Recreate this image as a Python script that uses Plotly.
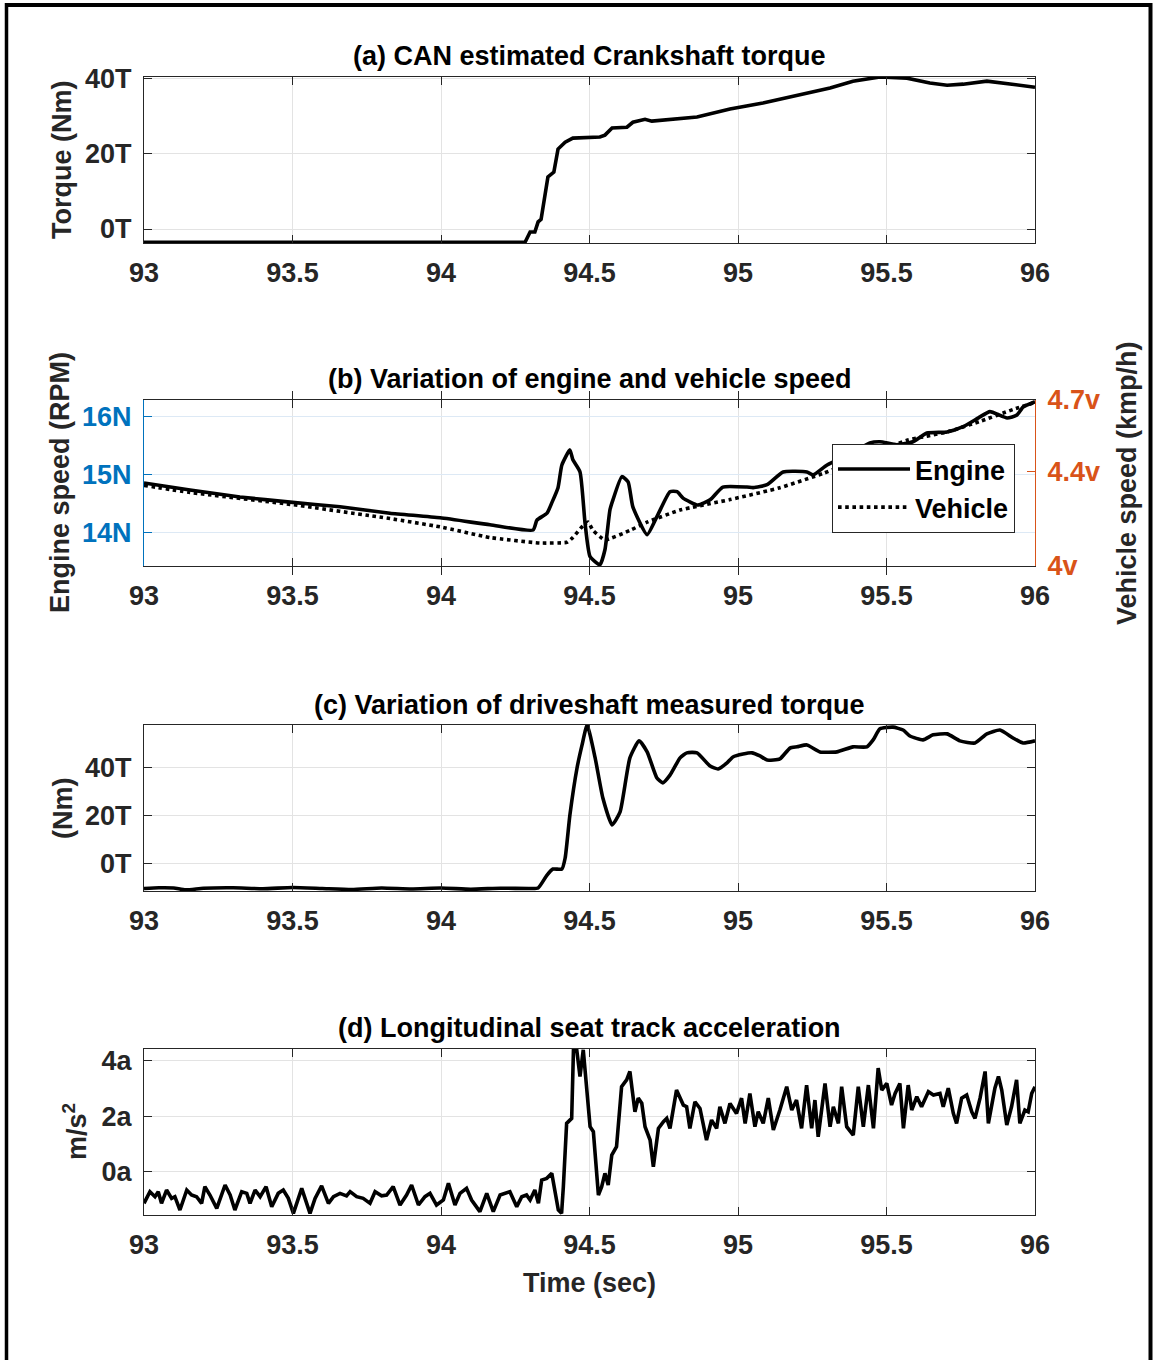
import plotly.graph_objects as go

W, H = 1154, 1360

# ---------------- data ----------------
xtick_vals = [93, 93.5, 94, 94.5, 95, 95.5, 96]
xtick_text = ["93", "93.5", "94", "94.5", "95", "95.5", "96"]

# (a) CAN estimated crankshaft torque
t_crank = [93.0, 94.283, 94.300, 94.316, 94.327, 94.337, 94.360, 94.380, 94.394, 94.418,
           94.444, 94.502, 94.535, 94.552, 94.576, 94.626, 94.646, 94.687, 94.710, 94.862,
           94.973, 95.084, 95.199, 95.310, 95.387, 95.478, 95.569, 95.646, 95.704, 95.758,
           95.838, 95.892, 95.926, 96.0]
crank = [-3.5, -3.5, -0.8, -0.8, 1.9, 2.6, 13.8, 15.1, 21.2, 23.0,
         24.1, 24.4, 24.4, 24.9, 26.8, 27.0, 28.3, 29.1, 28.6, 29.7,
         31.8, 33.4, 35.5, 37.4, 39.2, 40.3, 40.0, 38.7, 38.1, 38.4,
         39.2, 38.7, 38.4, 37.6]
crank_tick_vals = [0, 20, 40]
crank_tick_text = ["0T", "20T", "40T"]

# (b) engine speed (left axis) and vehicle speed (right axis)
t_eng = [93.0, 93.155, 93.323, 93.492, 93.660, 93.828, 93.997, 94.165, 94.310, 94.323,
         94.357, 94.374, 94.394, 94.407, 94.434, 94.444, 94.468, 94.485, 94.502, 94.535,
         94.552, 94.569, 94.579, 94.609, 94.630, 94.646, 94.694, 94.727, 94.771, 94.795,
         94.815, 94.865, 94.906, 94.949, 95.030, 95.051, 95.098, 95.152, 95.232, 95.253,
         95.300, 95.377, 95.444, 95.478, 95.535, 95.589, 95.636, 95.704, 95.758, 95.815,
         95.848, 95.906, 95.939, 95.960, 96.000]
engine = [14.86, 14.74, 14.62, 14.53, 14.45, 14.34, 14.26, 14.14, 14.05, 14.22,
          14.34, 14.53, 14.78, 15.17, 15.43, 15.26, 15.05, 14.17, 13.59, 13.45,
          13.71, 14.40, 14.57, 14.97, 14.88, 14.45, 13.97, 14.28, 14.71, 14.71,
          14.60, 14.48, 14.57, 14.79, 14.79, 14.78, 14.83, 15.05, 15.05, 15.00,
          15.17, 15.36, 15.55, 15.57, 15.52, 15.57, 15.72, 15.74, 15.83, 16.00,
          16.09, 15.98, 16.03, 16.17, 16.26]
t_veh = [93.0, 93.155, 93.492, 93.828, 93.997, 94.165, 94.333, 94.424, 94.444, 94.478,
         94.495, 94.512, 94.552, 94.636, 94.694, 94.805, 94.973, 95.141, 95.286, 95.444,
         95.569, 95.704, 95.815, 95.926, 96.0]
vehicle = [4.34, 4.31, 4.26, 4.20, 4.165, 4.12, 4.097, 4.10, 4.12, 4.17,
           4.185, 4.15, 4.11, 4.15, 4.185, 4.236, 4.28, 4.33, 4.39, 4.47,
           4.53, 4.565, 4.61, 4.66, 4.69]
eng_tick_vals = [14, 15, 16]
eng_tick_text = ["14N", "15N", "16N"]
veh_tick_vals = [4.0, 4.4, 4.7]
veh_tick_text = ["4v", "4.4v", "4.7v"]

# (c) driveshaft measured torque
t_drive = [93.00, 93.05, 93.10, 93.14, 93.20, 93.30, 93.40, 93.50, 93.60, 93.70,
           93.80, 93.90, 94.00, 94.10, 94.20, 94.30,
           94.327, 94.357, 94.377, 94.407, 94.418, 94.434, 94.458, 94.475, 94.492, 94.519,
           94.545, 94.576, 94.603, 94.636, 94.667, 94.694, 94.727, 94.747, 94.771, 94.805,
           94.828, 94.862, 94.906, 94.933, 94.963, 94.983, 95.017, 95.047, 95.074, 95.098,
           95.141, 95.175, 95.199, 95.232, 95.276, 95.333, 95.387, 95.434, 95.455, 95.478,
           95.522, 95.556, 95.579, 95.623, 95.657, 95.704, 95.747, 95.798, 95.838, 95.882,
           95.926, 95.960, 96.0]
drive = [-10.2, -9.9, -10.0, -10.8, -10.1, -9.9, -10.3, -9.8, -10.2, -10.6,
         -10.0, -10.4, -10.0, -10.5, -10.1, -10.2,
         -10.0, -4.6, -2.1, -2.1, 2.5, 20.4, 40.0, 49.6, 57.9, 44.2,
         27.5, 16.3, 21.7, 44.2, 51.3, 46.7, 35.8, 33.8, 37.0, 44.2,
         46.3, 46.3, 40.8, 39.6, 42.1, 44.6, 45.8, 46.3, 45.0, 43.3,
         43.8, 48.3, 48.8, 49.6, 46.7, 46.7, 48.8, 48.8, 51.7, 56.3,
         57.0, 55.8, 53.3, 51.7, 53.8, 54.2, 51.3, 50.4, 54.2, 55.8,
         52.5, 50.4, 51.3]
drive_tick_vals = [0, 20, 40]
drive_tick_text = ["0T", "20T", "40T"]

# (d) longitudinal seat track acceleration
t_acc = [93.000, 93.020, 93.037, 93.048, 93.059, 93.076, 93.093, 93.104, 93.121, 93.144,
         93.160, 93.177, 93.194, 93.205, 93.222, 93.245, 93.273, 93.290, 93.306, 93.329,
         93.346, 93.357, 93.374, 93.391, 93.411, 93.430, 93.452, 93.469, 93.486, 93.503,
         93.531, 93.559, 93.576, 93.598, 93.621, 93.638, 93.660, 93.682, 93.694, 93.716,
         93.738, 93.761, 93.778, 93.800, 93.817, 93.839, 93.862, 93.884, 93.901, 93.924,
         93.946, 93.963, 93.985, 94.008, 94.025, 94.047, 94.064, 94.086, 94.103, 94.131,
         94.154, 94.176, 94.199, 94.215, 94.232, 94.255, 94.272, 94.288, 94.300, 94.316,
         94.328, 94.339, 94.356, 94.373, 94.384, 94.395, 94.406, 94.412, 94.423, 94.440,
         94.446, 94.457, 94.468, 94.479, 94.502, 94.513, 94.530, 94.541, 94.552, 94.563,
         94.575, 94.591, 94.608, 94.625, 94.636, 94.653, 94.664, 94.676, 94.687, 94.704,
         94.715, 94.732, 94.749, 94.760, 94.771, 94.793, 94.816, 94.827, 94.838, 94.855,
         94.872, 94.894, 94.911, 94.928, 94.939, 94.956, 94.973, 94.995, 95.012, 95.024,
         95.040, 95.057, 95.068, 95.085, 95.102, 95.119, 95.141, 95.164, 95.181, 95.197,
         95.214, 95.231, 95.248, 95.259, 95.270, 95.293, 95.310, 95.321, 95.338, 95.349,
         95.366, 95.388, 95.405, 95.422, 95.439, 95.456, 95.472, 95.484, 95.501, 95.517,
         95.529, 95.545, 95.557, 95.573, 95.585, 95.602, 95.618, 95.641, 95.658, 95.680,
         95.691, 95.708, 95.725, 95.736, 95.753, 95.770, 95.787, 95.798, 95.815, 95.832,
         95.843, 95.865, 95.877, 95.888, 95.905, 95.921, 95.938, 95.949, 95.966, 95.977,
         95.989, 96.000]
acc = [-1.13, -0.71, -0.89, -0.71, -1.13, -0.65, -0.95, -0.89, -1.37, -0.65,
       -0.83, -0.89, -1.13, -0.53, -0.83, -1.31, -0.47, -0.83, -1.37, -0.71,
       -0.77, -1.13, -0.65, -0.89, -0.53, -1.25, -0.77, -0.65, -0.95, -1.49,
       -0.59, -1.49, -0.95, -0.50, -1.13, -0.89, -0.77, -0.86, -0.71, -0.89,
       -0.95, -1.13, -0.71, -0.86, -0.83, -0.53, -1.19, -0.83, -0.47, -1.19,
       -0.89, -0.77, -1.19, -1.01, -0.41, -1.19, -0.77, -0.59, -1.01, -1.43,
       -0.77, -1.43, -0.83, -0.77, -0.71, -1.25, -0.89, -0.83, -1.01, -0.65,
       -1.13, -0.29, -0.23, -0.05, -0.65, -1.37, -1.49, -0.53, 1.75, 1.93,
       4.40, 4.40, 3.44, 4.40, 1.63, 1.45, -0.83, -0.53, -0.05, -0.47,
       0.61, 0.91, 3.07, 3.32, 3.62, 2.17, 2.66, 2.48, 1.63, 1.15,
       0.19, 1.57, 1.81, 1.93, 1.57, 2.95, 2.41, 2.35, 1.57, 2.53,
       2.29, 1.15, 1.87, 1.57, 2.35, 1.75, 2.47, 2.11, 2.66, 1.75,
       2.83, 1.63, 2.17, 1.75, 2.66, 1.51, 2.23, 3.07, 2.23, 2.59,
       1.57, 3.13, 1.57, 2.59, 1.27, 3.19, 1.63, 2.35, 1.75, 3.07,
       1.63, 1.33, 3.07, 1.63, 3.13, 1.57, 3.74, 2.95, 3.19, 2.41,
       2.83, 3.19, 1.57, 3.13, 2.23, 2.71, 2.35, 2.89, 2.77, 2.83,
       2.35, 3.02, 2.11, 1.75, 2.66, 2.77, 2.17, 1.93, 2.66, 3.62,
       1.75, 3.02, 3.44, 2.95, 1.69, 2.35, 3.32, 1.75, 2.23, 2.17,
       2.83, 3.07]
acc_tick_vals = [0, 2, 4]
acc_tick_text = ["0a", "2a", "4a"]

# ---------------- styling ----------------
FONT = "Liberation Sans, Arial, Helvetica, sans-serif"
AX = "#262626"
BLUE = "#0072BD"
ORANGE = "#D95319"
GRID = "#e3e3e3"
GRID_B = "#dde9f5"
FS = 27
LW = 3.6


def tf(color=AX, size=FS):
    return dict(family=FONT, size=size, color=color, weight="bold")


XD = [144 / W, 1035 / W]


def ydom(top, bottom):
    return [1 - bottom / H, 1 - top / H]


def xax(anchor):
    return dict(domain=XD, anchor=anchor, range=[93, 96], tickvals=xtick_vals, ticktext=xtick_text,
                ticks="inside", ticklen=8, tickwidth=1, tickcolor=AX, showline=True, linecolor=AX,
                linewidth=1, mirror="allticks", showgrid=True, gridcolor=GRID, gridwidth=1,
                zeroline=False, tickfont=tf(), ticklabelstandoff=6, automargin=False)


def yax(anchor, dom, rng, tv, tt, color=AX, grid=GRID, mirror="allticks"):
    return dict(domain=dom, anchor=anchor, range=rng, tickvals=tv, ticktext=tt,
                ticks="inside", ticklen=8, tickwidth=1, tickcolor=color, showline=True, linecolor=color,
                linewidth=1, mirror=mirror, showgrid=True, gridcolor=grid, gridwidth=1,
                zeroline=False, tickfont=tf(color), ticklabelstandoff=6, automargin=False)


fig = go.Figure()
fig.add_trace(go.Scatter(x=t_crank, y=crank, mode="lines", line=dict(color="black", width=LW),
                         xaxis="x", yaxis="y", showlegend=False))
fig.add_trace(go.Scatter(x=t_eng, y=engine, mode="lines", name="Engine",
                         line=dict(color="black", width=LW, shape="spline", smoothing=0.5),
                         xaxis="x2", yaxis="y2", showlegend=True))
fig.add_trace(go.Scatter(x=t_veh, y=vehicle, mode="lines", name="Vehicle",
                         line=dict(color="black", width=LW, dash="dot", shape="spline", smoothing=0.4),
                         xaxis="x2", yaxis="y5", showlegend=True))
fig.add_trace(go.Scatter(x=t_drive, y=drive, mode="lines",
                         line=dict(color="black", width=LW, shape="spline", smoothing=0.5),
                         xaxis="x3", yaxis="y3", showlegend=False))
fig.add_trace(go.Scatter(x=t_acc, y=acc, mode="lines", line=dict(color="black", width=LW),
                         xaxis="x4", yaxis="y4", showlegend=False))

layout = dict(
    width=W, height=H, margin=dict(l=0, r=0, t=0, b=0),
    paper_bgcolor="white", plot_bgcolor="white",
    font=dict(family=FONT, color=AX),
    xaxis=xax("y"), xaxis2=xax("y2"), xaxis3=xax("y3"), xaxis4=xax("y4"),
    yaxis=yax("x", ydom(77, 243), [-3.7, 40.3], crank_tick_vals, crank_tick_text),
    yaxis2=yax("x2", ydom(400, 566), [13.43, 16.29], eng_tick_vals, eng_tick_text,
               color=BLUE, grid=GRID_B, mirror=False),
    yaxis3=yax("x3", ydom(725, 891), [-11.25, 57.9], drive_tick_vals, drive_tick_text),
    yaxis4=yax("x4", ydom(1049, 1215), [-1.55, 4.43], acc_tick_vals, acc_tick_text),
    showlegend=True,
    legend=dict(x=832 / W, y=1 - 444 / H, xanchor="left", yanchor="top",
                bgcolor="white", bordercolor="#262626", borderwidth=1,
                font=dict(family=FONT, size=FS, color="black", weight="bold"),
                itemwidth=72, tracegroupgap=0),
)
y5 = yax("x2", ydom(400, 566), [4.0, 4.7], veh_tick_vals, veh_tick_text,
         color=ORANGE, mirror=False)
y5.update(overlaying="y2", side="right", showgrid=False)
layout["yaxis5"] = y5
fig.update_layout(**layout)

# titles and axis labels
xc = (144 + 1035) / 2 / W
ann = [
    ("(a) CAN estimated Crankshaft torque", xc, 56, 0, "black"),
    ("(b) Variation of engine and vehicle speed", xc, 379, 0, "black"),
    ("(c) Variation of driveshaft measured torque", xc, 705, 0, "black"),
    ("(d) Longitudinal seat track acceleration", xc, 1028, 0, "black"),
    ("Time (sec)", xc, 1283, 0, AX),
    ("Torque (Nm)", 62 / W, 160, -90, AX),
    ("Engine speed (RPM)", 60 / W, 483, -90, AX),
    ("Vehicle speed (kmp/h)", 1127 / W, 483, -90, AX),
    ("(Nm)", 63 / W, 808, -90, AX),
    ("m/s<sup>2</sup>", 75 / W, 1132, -90, AX),
]
for text, x, ypx, ang, col in ann:
    fig.add_annotation(text=text, x=x, y=1 - ypx / H, xref="paper", yref="paper",
                       xanchor="center", yanchor="middle", showarrow=False, textangle=ang,
                       font=tf(col))

# outer frame of the figure
frame = dict(color="black", width=4)
fig.add_shape(type="line", xref="paper", yref="paper", x0=5 / W, x1=1152 / W,
              y0=1 - 5 / H, y1=1 - 5 / H, line=frame)
fig.add_shape(type="line", xref="paper", yref="paper", x0=6.5 / W, x1=6.5 / W,
              y0=0, y1=1 - 3 / H, line=dict(color="black", width=3.5))
fig.add_shape(type="line", xref="paper", yref="paper", x0=1150.5 / W, x1=1150.5 / W,
              y0=0, y1=1 - 3 / H, line=frame)

fig.write_html("out.html", config={"displayModeBar": False},
               post_script="document.body.style.margin='0';document.body.style.overflow='hidden';")
